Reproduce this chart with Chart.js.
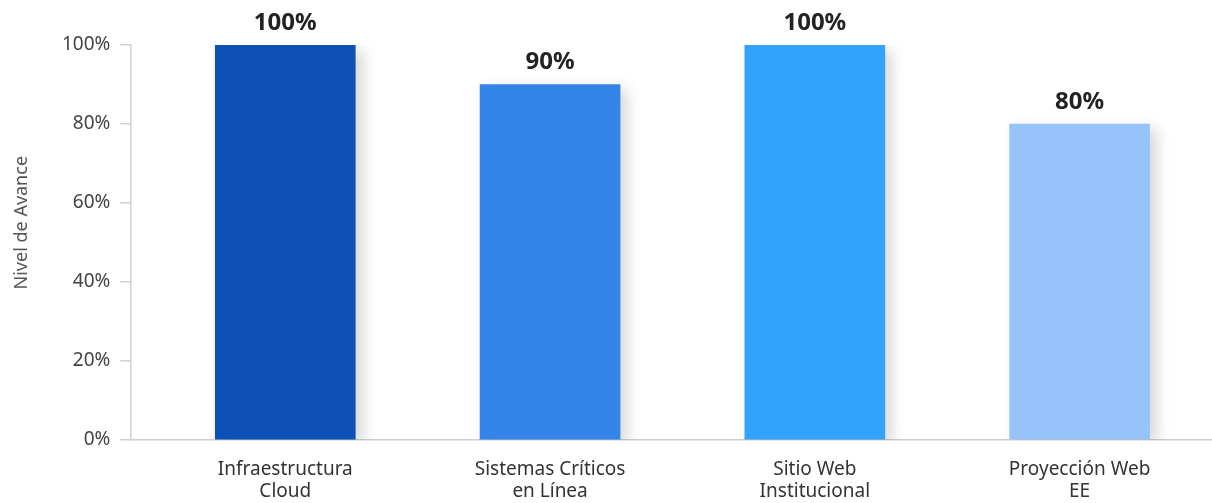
<!DOCTYPE html>
<html>
<head>
<meta charset="utf-8">
<script src="https://cdn.jsdelivr.net/npm/chart.js@4/dist/chart.umd.min.js"></script>
<style>
    html, body { margin: 0; padding: 0; background: #ffffff; overflow: hidden; }
    #wrap { width: 1212px; height: 503px; position: relative; }
</style>
</head>
<body>
<div id="wrap"><canvas id="avanceChart"></canvas></div>
<script>
// Chart data
const categories = [
    ['Infraestructura', 'Cloud'],
    ['Sistemas Críticos', 'en Línea'],
    ['Sitio Web', 'Institucional'],
    ['Proyección Web', 'EE']
];
const avance = [100, 90, 100, 80];
const barColors = ['#0d50b6', '#3584e7', '#33a2fc', '#96c4fa'];
const yTicks = [0, 20, 40, 60, 80, 100];
const yTitle = 'Nivel de Avance';

const fontFamily = "'Noto Sans', 'Open Sans', sans-serif";

// soft shadow behind the bars
const barShadow = {
    id: 'barShadow',
    beforeDatasetsDraw(chart) {
        const ctx = chart.ctx;
        ctx.save();
        ctx.shadowColor = 'rgba(0, 0, 0, 0.16)';
        ctx.shadowBlur = 14;
        ctx.shadowOffsetX = 7;
        ctx.shadowOffsetY = 5;
    },
    afterDatasetsDraw(chart) {
        chart.ctx.restore();
    }
};

// value labels above each bar + y axis title (sits a bit above the middle)
const valueLabels = {
    id: 'valueLabels',
    afterDraw(chart) {
        const ctx = chart.ctx;
        const meta = chart.getDatasetMeta(0);
        ctx.save();
        ctx.font = "bold 24px " + fontFamily;
        ctx.fillStyle = '#222222';
        ctx.textAlign = 'center';
        ctx.textBaseline = 'middle';
        meta.data.forEach((bar, i) => {
            ctx.fillText(avance[i] + '%', bar.x, bar.y - 22);
        });

        const yScale = chart.scales.y;
        ctx.translate(22, yScale.getPixelForValue(55));
        ctx.rotate(-Math.PI / 2);
        ctx.font = "18px " + fontFamily;
        ctx.fillStyle = '#555555';
        ctx.fillText(yTitle, 0, 0);
        ctx.restore();
    }
};

const ctx = document.getElementById('avanceChart').getContext('2d');
const avanceChart = new Chart(ctx, {
    type: 'bar',
    data: {
        datasets: [{
            data: avance.map((v, i) => ({ x: i, y: v })),
            backgroundColor: barColors,
            barThickness: 140,
            borderWidth: 0
        }]
    },
    options: {
        responsive: true,
        maintainAspectRatio: false,
        animation: false,
        layout: {
            padding: { top: 45, right: 0, bottom: -19, left: 52 }
        },
        plugins: {
            legend: { display: false },
            tooltip: { enabled: false }
        },
        scales: {
            x: {
                type: 'linear',
                offset: false,
                bounds: 'data',
                min: -0.585,
                max: 3.5,
                afterBuildTicks: scale => {
                    scale.ticks = categories.map((c, i) => ({ value: i }));
                },
                grid: { display: false, offset: false, drawTicks: false },
                border: { display: true, color: '#d0d0d0', width: 1.5 },
                ticks: {
                    autoSkip: false,
                    maxRotation: 0,
                    padding: 19,
                    color: '#333333',
                    font: { family: fontFamily, size: 19, lineHeight: 1.16 },
                    callback: value => categories[value]
                }
            },
            y: {
                min: 0,
                max: 100,
                afterBuildTicks: scale => {
                    scale.ticks = yTicks.map(v => ({ value: v }));
                },
                grid: {
                    display: true,
                    drawOnChartArea: false,
                    drawTicks: true,
                    tickLength: 10,
                    color: '#d0d0d0',
                    lineWidth: 1.5
                },
                border: { display: true, color: '#d0d0d0', width: 1.5 },
                ticks: {
                    padding: 10,
                    color: '#444444',
                    font: { family: fontFamily, size: 19 },
                    callback: value => value + '%'
                },
                title: { display: false }
            }
        }
    },
    plugins: [barShadow, valueLabels]
});

window.addEventListener('resize', function() {
    if (avanceChart) {
        avanceChart.resize();
    }
});
</script>
</body>
</html>
